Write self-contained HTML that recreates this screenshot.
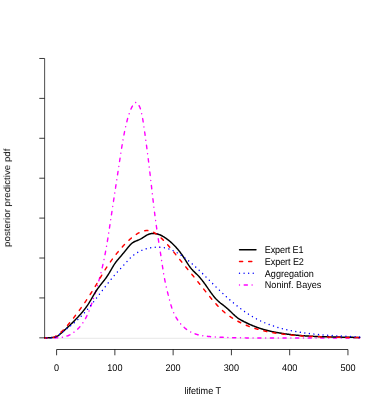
<!DOCTYPE html>
<html><head><meta charset="utf-8">
<style>
html,body{margin:0;padding:0;background:#fff;}
body{width:382px;height:409px;overflow:hidden;font-family:"Liberation Sans",sans-serif;}
svg{display:block;will-change:transform;}
text{font-family:"Liberation Sans",sans-serif;font-size:9.09px;fill:#000;text-rendering:geometricPrecision;}
</style></head><body>
<svg width="382" height="409" viewBox="0 0 382 382" preserveAspectRatio="none">
<rect width="382" height="382" fill="#fff"/>
<line x1="44.6" y1="315.97" x2="359.7" y2="315.97" stroke="#dedede" stroke-width="0.7"/>
<g fill="none" stroke-linejoin="round" stroke-linecap="round" stroke-width="1.4">
<path d="M44.75,315.59 L45.26,315.58 L45.76,315.58 L46.26,315.57 L46.77,315.57 L47.27,315.57 L47.78,315.57 L48.29,315.57 L48.79,315.57 L49.30,315.58 L49.81,315.58 L50.32,315.59 L50.82,315.59 L51.33,315.59 L51.84,315.60 L52.35,315.60 L52.85,315.60 L53.36,315.60 L53.86,315.60 L54.37,315.59 L54.87,315.59 L55.38,315.58 L55.88,315.56 L56.38,315.55 L56.89,315.53 L57.39,315.51 L57.89,315.48 L58.38,315.45 L58.88,315.41 L59.38,315.37 L59.87,315.32 L60.36,315.27 L60.85,315.21 L61.34,315.15 L61.83,315.08 L62.31,315.01 L62.80,314.92 L63.28,314.84 L63.76,314.74 L64.24,314.64 L64.71,314.53 L65.18,314.41 L65.65,314.28 L66.12,314.15 L66.59,314.01 L67.05,313.86 L67.51,313.70 L67.96,313.53 L68.42,313.35 L68.87,313.17 L69.32,312.97 L69.76,312.77 L70.20,312.55 L70.64,312.33 L71.08,312.10 L71.51,311.87 L71.94,311.62 L72.36,311.37 L72.78,311.11 L73.20,310.85 L73.61,310.57 L74.02,310.29 L74.42,310.01 L74.82,309.71 L75.22,309.42 L75.61,309.11 L76.00,308.80 L76.38,308.49 L76.76,308.17 L77.14,307.84 L77.51,307.51 L77.87,307.18 L78.23,306.84 L78.59,306.49 L78.94,306.15 L79.28,305.80 L79.62,305.44 L79.96,305.08 L80.28,304.72 L80.61,304.36 L80.93,303.99 L81.24,303.62 L81.55,303.25 L81.85,302.88 L82.15,302.50 L82.44,302.12 L82.72,301.74 L83.01,301.36 L83.28,300.97 L83.56,300.58 L83.82,300.19 L84.09,299.80 L84.34,299.40 L84.60,299.00 L84.85,298.61 L85.10,298.20 L85.34,297.80 L85.58,297.40 L85.81,296.99 L86.04,296.58 L86.27,296.17 L86.49,295.76 L86.71,295.35 L86.93,294.93 L87.14,294.51 L87.35,294.09 L87.56,293.67 L87.76,293.25 L87.96,292.83 L88.16,292.41 L88.35,291.98 L88.55,291.55 L88.74,291.13 L88.93,290.70 L89.11,290.27 L89.29,289.84 L89.47,289.40 L89.65,288.97 L89.83,288.54 L90.01,288.10 L90.18,287.67 L90.35,287.23 L90.52,286.79 L90.69,286.36 L90.86,285.92 L91.02,285.48 L91.19,285.04 L91.35,284.60 L91.52,284.16 L91.68,283.71 L91.84,283.27 L92.00,282.83 L92.16,282.39 L92.32,281.95 L92.48,281.50 L92.64,281.06 L92.80,280.62 L92.95,280.17 L93.11,279.73 L93.27,279.29 L93.42,278.84 L93.58,278.40 L93.73,277.95 L93.89,277.51 L94.04,277.06 L94.20,276.62 L94.35,276.17 L94.50,275.73 L94.65,275.28 L94.81,274.84 L94.96,274.39 L95.11,273.94 L95.26,273.50 L95.41,273.05 L95.55,272.60 L95.70,272.16 L95.85,271.71 L96.00,271.26 L96.14,270.81 L96.29,270.37 L96.44,269.92 L96.58,269.47 L96.73,269.02 L96.87,268.57 L97.01,268.12 L97.15,267.67 L97.30,267.22 L97.44,266.78 L97.58,266.33 L97.72,265.88 L97.86,265.43 L98.00,264.98 L98.13,264.53 L98.27,264.08 L98.41,263.63 L98.55,263.17 L98.68,262.72 L98.82,262.27 L98.95,261.82 L99.08,261.37 L99.22,260.92 L99.35,260.47 L99.48,260.01 L99.61,259.56 L99.74,259.11 L99.87,258.66 L100.00,258.21 L100.13,257.75 L100.25,257.30 L100.38,256.85 L100.51,256.39 L100.63,255.94 L100.76,255.49 L100.88,255.03 L101.00,254.58 L101.12,254.13 L101.25,253.67 L101.37,253.22 L101.49,252.76 L101.61,252.31 L101.72,251.86 L101.84,251.40 L101.96,250.95 L102.07,250.49 L102.19,250.04 L102.30,249.58 L102.42,249.13 L102.53,248.67 L102.64,248.21 L102.75,247.76 L102.86,247.30 L102.97,246.85 L103.08,246.39 L103.19,245.93 L103.30,245.48 L103.40,245.02 L103.51,244.57 L103.62,244.11 L103.72,243.65 L103.82,243.20 L103.93,242.74 L104.03,242.28 L104.13,241.82 L104.23,241.37 L104.33,240.91 L104.43,240.45 L104.53,239.99 L104.63,239.54 L104.72,239.08 L104.82,238.62 L104.92,238.16 L105.01,237.71 L105.11,237.25 L105.20,236.79 L105.29,236.33 L105.39,235.87 L105.48,235.41 L105.57,234.95 L105.66,234.50 L105.75,234.04 L105.84,233.58 L105.93,233.12 L106.02,232.66 L106.11,232.20 L106.20,231.74 L106.28,231.28 L106.37,230.82 L106.46,230.36 L106.54,229.90 L106.63,229.45 L106.71,228.99 L106.80,228.53 L106.88,228.07 L106.97,227.61 L107.05,227.15 L107.13,226.69 L107.22,226.23 L107.30,225.77 L107.38,225.31 L107.46,224.85 L107.54,224.39 L107.62,223.93 L107.70,223.47 L107.78,223.00 L107.86,222.54 L107.94,222.08 L108.02,221.62 L108.10,221.16 L108.18,220.70 L108.26,220.24 L108.34,219.78 L108.41,219.32 L108.49,218.86 L108.57,218.40 L108.64,217.94 L108.72,217.48 L108.80,217.02 L108.87,216.55 L108.95,216.09 L109.03,215.63 L109.10,215.17 L109.18,214.71 L109.25,214.25 L109.33,213.79 L109.40,213.33 L109.48,212.86 L109.55,212.40 L109.63,211.94 L109.70,211.48 L109.78,211.02 L109.85,210.56 L109.92,210.10 L110.00,209.64 L110.07,209.17 L110.15,208.71 L110.22,208.25 L110.29,207.79 L110.37,207.33 L110.44,206.87 L110.52,206.40 L110.59,205.94 L110.66,205.48 L110.74,205.02 L110.81,204.56 L110.89,204.10 L110.96,203.64 L111.03,203.17 L111.11,202.71 L111.18,202.25 L111.26,201.79 L111.33,201.33 L111.41,200.87 L111.48,200.41 L111.55,199.94 L111.63,199.48 L111.70,199.02 L111.78,198.56 L111.85,198.10 L111.93,197.64 L112.00,197.17 L112.08,196.71 L112.15,196.25 L112.22,195.79 L112.30,195.33 L112.37,194.87 L112.45,194.41 L112.52,193.94 L112.60,193.48 L112.67,193.02 L112.75,192.56 L112.82,192.10 L112.90,191.64 L112.97,191.18 L113.05,190.71 L113.12,190.25 L113.20,189.79 L113.27,189.33 L113.35,188.87 L113.42,188.41 L113.50,187.95 L113.57,187.48 L113.65,187.02 L113.72,186.56 L113.80,186.10 L113.87,185.64 L113.95,185.18 L114.02,184.72 L114.10,184.25 L114.17,183.79 L114.25,183.33 L114.33,182.87 L114.40,182.41 L114.48,181.95 L114.55,181.49 L114.63,181.02 L114.70,180.56 L114.78,180.10 L114.85,179.64 L114.93,179.18 L115.00,178.72 L115.08,178.26 L115.15,177.79 L115.23,177.33 L115.31,176.87 L115.38,176.41 L115.46,175.95 L115.53,175.49 L115.61,175.03 L115.68,174.56 L115.76,174.10 L115.83,173.64 L115.91,173.18 L115.99,172.72 L116.06,172.26 L116.14,171.80 L116.21,171.33 L116.29,170.87 L116.36,170.41 L116.44,169.95 L116.51,169.49 L116.59,169.03 L116.67,168.57 L116.74,168.11 L116.82,167.64 L116.89,167.18 L116.97,166.72 L117.04,166.26 L117.12,165.80 L117.19,165.34 L117.27,164.88 L117.34,164.42 L117.42,163.95 L117.50,163.49 L117.57,163.03 L117.65,162.57 L117.72,162.11 L117.80,161.65 L117.87,161.19 L117.95,160.73 L118.02,160.26 L118.10,159.80 L118.17,159.34 L118.25,158.88 L118.33,158.42 L118.40,157.96 L118.48,157.50 L118.55,157.04 L118.63,156.57 L118.70,156.11 L118.78,155.65 L118.85,155.19 L118.93,154.73 L119.00,154.27 L119.08,153.81 L119.15,153.35 L119.23,152.89 L119.30,152.42 L119.38,151.96 L119.45,151.50 L119.53,151.04 L119.60,150.58 L119.68,150.12 L119.75,149.66 L119.83,149.20 L119.90,148.74 L119.98,148.27 L120.05,147.81 L120.13,147.35 L120.20,146.89 L120.28,146.43 L120.35,145.97 L120.43,145.51 L120.50,145.05 L120.58,144.59 L120.66,144.12 L120.73,143.66 L120.81,143.20 L120.88,142.74 L120.96,142.28 L121.04,141.82 L121.11,141.36 L121.19,140.90 L121.27,140.44 L121.35,139.98 L121.42,139.51 L121.50,139.05 L121.58,138.59 L121.66,138.13 L121.74,137.67 L121.82,137.21 L121.90,136.75 L121.98,136.29 L122.06,135.83 L122.14,135.37 L122.23,134.91 L122.31,134.44 L122.39,133.98 L122.48,133.52 L122.56,133.06 L122.65,132.60 L122.73,132.14 L122.82,131.68 L122.90,131.22 L122.99,130.76 L123.08,130.30 L123.17,129.84 L123.26,129.38 L123.35,128.92 L123.44,128.45 L123.53,127.99 L123.62,127.53 L123.72,127.07 L123.81,126.61 L123.90,126.15 L124.00,125.69 L124.10,125.23 L124.19,124.77 L124.29,124.31 L124.39,123.85 L124.49,123.39 L124.59,122.93 L124.69,122.47 L124.79,122.00 L124.90,121.54 L125.00,121.08 L125.11,120.62 L125.21,120.16 L125.32,119.70 L125.43,119.24 L125.54,118.78 L125.65,118.32 L125.76,117.86 L125.87,117.40 L125.99,116.94 L126.10,116.48 L126.22,116.02 L126.34,115.56 L126.46,115.10 L126.58,114.64 L126.70,114.18 L126.82,113.71 L126.94,113.25 L127.07,112.79 L127.20,112.33 L127.33,111.88 L127.46,111.42 L127.59,110.96 L127.72,110.50 L127.86,110.05 L128.00,109.59 L128.14,109.14 L128.28,108.69 L128.43,108.23 L128.58,107.79 L128.73,107.34 L128.88,106.89 L129.04,106.45 L129.20,106.01 L129.36,105.57 L129.53,105.13 L129.70,104.69 L129.87,104.26 L130.05,103.83 L130.23,103.41 L130.41,102.98 L130.60,102.56 L130.79,102.14 L130.99,101.73 L131.19,101.32 L131.39,100.91 L131.61,100.50 L131.83,100.10 L132.05,99.71 L132.29,99.31 L132.54,98.92 L132.80,98.54 L133.07,98.16 L133.36,97.78 L133.66,97.41 L133.97,97.05 L134.30,96.69 L134.64,96.37 L134.99,96.11 L135.35,95.91 L135.71,95.81 L136.07,95.81 L136.43,95.91 L136.79,96.10 L137.14,96.35 L137.47,96.64 L137.79,96.97 L138.09,97.31 L138.38,97.67 L138.66,98.05 L138.91,98.44 L139.16,98.84 L139.39,99.26 L139.61,99.68 L139.82,100.12 L140.01,100.57 L140.20,101.02 L140.37,101.48 L140.54,101.95 L140.69,102.43 L140.84,102.90 L140.98,103.39 L141.12,103.87 L141.25,104.36 L141.37,104.85 L141.49,105.33 L141.61,105.82 L141.72,106.31 L141.83,106.79 L141.93,107.27 L142.04,107.74 L142.14,108.22 L142.23,108.69 L142.33,109.16 L142.42,109.63 L142.51,110.09 L142.60,110.56 L142.69,111.02 L142.78,111.48 L142.86,111.94 L142.94,112.40 L143.02,112.86 L143.10,113.31 L143.18,113.77 L143.26,114.22 L143.33,114.68 L143.41,115.13 L143.48,115.58 L143.55,116.04 L143.62,116.49 L143.70,116.94 L143.77,117.39 L143.84,117.84 L143.91,118.30 L143.98,118.75 L144.05,119.20 L144.12,119.66 L144.19,120.11 L144.26,120.56 L144.33,121.02 L144.40,121.47 L144.47,121.93 L144.54,122.38 L144.60,122.84 L144.67,123.30 L144.74,123.75 L144.81,124.21 L144.88,124.67 L144.95,125.12 L145.02,125.58 L145.09,126.04 L145.15,126.50 L145.22,126.96 L145.29,127.42 L145.36,127.88 L145.43,128.34 L145.49,128.80 L145.56,129.26 L145.63,129.72 L145.70,130.18 L145.76,130.64 L145.83,131.10 L145.90,131.56 L145.97,132.02 L146.03,132.48 L146.10,132.94 L146.17,133.41 L146.23,133.87 L146.30,134.33 L146.36,134.79 L146.43,135.26 L146.50,135.72 L146.56,136.18 L146.63,136.65 L146.69,137.11 L146.76,137.57 L146.82,138.04 L146.89,138.50 L146.95,138.97 L147.02,139.43 L147.08,139.90 L147.15,140.36 L147.21,140.82 L147.28,141.29 L147.34,141.75 L147.41,142.22 L147.47,142.69 L147.53,143.15 L147.60,143.62 L147.66,144.08 L147.72,144.55 L147.79,145.01 L147.85,145.48 L147.91,145.95 L147.98,146.41 L148.04,146.88 L148.10,147.34 L148.16,147.81 L148.23,148.28 L148.29,148.74 L148.35,149.21 L148.41,149.67 L148.47,150.14 L148.54,150.61 L148.60,151.07 L148.66,151.54 L148.72,152.01 L148.78,152.47 L148.84,152.94 L148.90,153.41 L148.96,153.87 L149.02,154.34 L149.08,154.80 L149.14,155.27 L149.20,155.74 L149.26,156.20 L149.32,156.67 L149.38,157.13 L149.44,157.60 L149.50,158.07 L149.56,158.53 L149.62,159.00 L149.68,159.46 L149.74,159.93 L149.80,160.40 L149.86,160.86 L149.91,161.33 L149.97,161.79 L150.03,162.26 L150.09,162.72 L150.15,163.19 L150.20,163.65 L150.26,164.12 L150.32,164.58 L150.38,165.05 L150.43,165.51 L150.49,165.98 L150.55,166.44 L150.61,166.91 L150.66,167.37 L150.72,167.84 L150.78,168.30 L150.83,168.77 L150.89,169.23 L150.95,169.69 L151.01,170.16 L151.06,170.62 L151.12,171.09 L151.18,171.55 L151.23,172.02 L151.29,172.48 L151.35,172.94 L151.40,173.41 L151.46,173.87 L151.52,174.34 L151.57,174.80 L151.63,175.26 L151.69,175.73 L151.74,176.19 L151.80,176.65 L151.86,177.12 L151.91,177.58 L151.97,178.04 L152.03,178.51 L152.08,178.97 L152.14,179.43 L152.20,179.90 L152.25,180.36 L152.31,180.82 L152.37,181.29 L152.42,181.75 L152.48,182.21 L152.54,182.68 L152.60,183.14 L152.65,183.60 L152.71,184.06 L152.77,184.53 L152.83,184.99 L152.88,185.45 L152.94,185.92 L153.00,186.38 L153.06,186.84 L153.12,187.30 L153.17,187.77 L153.23,188.23 L153.29,188.69 L153.35,189.15 L153.41,189.62 L153.47,190.08 L153.53,190.54 L153.58,191.00 L153.64,191.46 L153.70,191.93 L153.76,192.39 L153.82,192.85 L153.88,193.31 L153.94,193.78 L154.00,194.24 L154.06,194.70 L154.12,195.16 L154.19,195.62 L154.25,196.09 L154.31,196.55 L154.37,197.01 L154.43,197.47 L154.49,197.93 L154.55,198.39 L154.62,198.86 L154.68,199.32 L154.74,199.78 L154.80,200.24 L154.87,200.70 L154.93,201.16 L154.99,201.63 L155.06,202.09 L155.12,202.55 L155.19,203.01 L155.25,203.47 L155.32,203.93 L155.38,204.40 L155.45,204.86 L155.51,205.32 L155.58,205.78 L155.65,206.24 L155.71,206.70 L155.78,207.16 L155.85,207.63 L155.91,208.09 L155.98,208.55 L156.05,209.01 L156.12,209.47 L156.19,209.93 L156.26,210.39 L156.32,210.85 L156.39,211.32 L156.46,211.78 L156.53,212.24 L156.60,212.70 L156.68,213.16 L156.75,213.62 L156.82,214.08 L156.89,214.54 L156.96,215.00 L157.04,215.47 L157.11,215.93 L157.18,216.39 L157.26,216.85 L157.33,217.31 L157.40,217.77 L157.48,218.23 L157.55,218.69 L157.63,219.15 L157.70,219.62 L157.78,220.08 L157.85,220.54 L157.93,221.00 L158.00,221.46 L158.08,221.92 L158.16,222.38 L158.23,222.84 L158.31,223.30 L158.38,223.77 L158.46,224.23 L158.54,224.69 L158.61,225.15 L158.69,225.61 L158.77,226.07 L158.85,226.53 L158.92,226.99 L159.00,227.45 L159.08,227.91 L159.15,228.38 L159.23,228.84 L159.31,229.30 L159.39,229.76 L159.46,230.22 L159.54,230.68 L159.62,231.14 L159.69,231.60 L159.77,232.06 L159.85,232.53 L159.93,232.99 L160.00,233.45 L160.08,233.91 L160.16,234.37 L160.23,234.83 L160.31,235.29 L160.39,235.75 L160.46,236.22 L160.54,236.68 L160.61,237.14 L160.69,237.60 L160.76,238.06 L160.84,238.52 L160.92,238.98 L160.99,239.44 L161.06,239.91 L161.14,240.37 L161.21,240.83 L161.29,241.29 L161.36,241.75 L161.43,242.21 L161.51,242.67 L161.58,243.14 L161.66,243.60 L161.73,244.06 L161.80,244.52 L161.87,244.98 L161.95,245.44 L162.02,245.91 L162.10,246.37 L162.17,246.83 L162.24,247.29 L162.32,247.75 L162.39,248.21 L162.47,248.68 L162.54,249.14 L162.62,249.60 L162.69,250.06 L162.77,250.52 L162.85,250.99 L162.92,251.45 L163.00,251.91 L163.08,252.37 L163.16,252.83 L163.24,253.30 L163.32,253.76 L163.40,254.22 L163.48,254.68 L163.57,255.14 L163.65,255.61 L163.73,256.07 L163.82,256.53 L163.91,256.99 L163.99,257.46 L164.08,257.92 L164.17,258.38 L164.26,258.84 L164.35,259.30 L164.45,259.77 L164.54,260.23 L164.63,260.69 L164.73,261.16 L164.83,261.62 L164.93,262.08 L165.03,262.54 L165.13,263.01 L165.23,263.47 L165.33,263.93 L165.44,264.39 L165.54,264.86 L165.65,265.32 L165.76,265.78 L165.87,266.24 L165.98,266.71 L166.09,267.17 L166.20,267.63 L166.31,268.09 L166.43,268.55 L166.54,269.01 L166.66,269.47 L166.77,269.93 L166.89,270.39 L167.01,270.85 L167.13,271.31 L167.24,271.77 L167.36,272.23 L167.48,272.69 L167.61,273.14 L167.73,273.60 L167.85,274.06 L167.97,274.51 L168.09,274.97 L168.22,275.42 L168.34,275.88 L168.47,276.33 L168.59,276.79 L168.72,277.24 L168.84,277.69 L168.97,278.14 L169.09,278.59 L169.22,279.04 L169.34,279.49 L169.47,279.94 L169.60,280.39 L169.72,280.83 L169.85,281.28 L169.98,281.72 L170.11,282.17 L170.24,282.61 L170.38,283.05 L170.51,283.50 L170.64,283.94 L170.78,284.38 L170.92,284.82 L171.06,285.25 L171.20,285.69 L171.35,286.13 L171.50,286.56 L171.65,286.99 L171.80,287.43 L171.96,287.86 L172.12,288.29 L172.28,288.72 L172.44,289.14 L172.61,289.57 L172.79,290.00 L172.96,290.42 L173.14,290.84 L173.33,291.26 L173.51,291.68 L173.71,292.10 L173.90,292.52 L174.11,292.94 L174.31,293.35 L174.52,293.77 L174.74,294.18 L174.96,294.59 L175.19,295.00 L175.42,295.41 L175.66,295.81 L175.90,296.22 L176.15,296.62 L176.41,297.02 L176.67,297.42 L176.94,297.82 L177.21,298.21 L177.49,298.61 L177.77,299.00 L178.06,299.39 L178.36,299.77 L178.66,300.16 L178.96,300.54 L179.28,300.92 L179.59,301.29 L179.91,301.66 L180.24,302.03 L180.57,302.39 L180.91,302.75 L181.25,303.11 L181.60,303.46 L181.95,303.81 L182.30,304.15 L182.67,304.49 L183.03,304.82 L183.40,305.15 L183.77,305.47 L184.15,305.79 L184.53,306.11 L184.92,306.42 L185.31,306.72 L185.70,307.02 L186.10,307.31 L186.50,307.59 L186.91,307.87 L187.32,308.14 L187.73,308.41 L188.15,308.67 L188.57,308.92 L188.99,309.17 L189.42,309.41 L189.85,309.64 L190.28,309.86 L190.72,310.08 L191.16,310.29 L191.60,310.49 L192.05,310.69 L192.50,310.88 L192.95,311.06 L193.40,311.24 L193.86,311.41 L194.32,311.57 L194.78,311.73 L195.24,311.88 L195.71,312.03 L196.18,312.17 L196.65,312.30 L197.12,312.43 L197.60,312.56 L198.08,312.68 L198.56,312.79 L199.04,312.90 L199.52,313.00 L200.00,313.10 L200.49,313.20 L200.98,313.29 L201.47,313.38 L201.96,313.46 L202.45,313.54 L202.95,313.62 L203.44,313.69 L203.94,313.76 L204.43,313.83 L204.93,313.89 L205.43,313.95 L205.93,314.01 L206.43,314.06 L206.93,314.11 L207.44,314.16 L207.94,314.21 L208.44,314.25 L208.95,314.30 L209.45,314.34 L209.95,314.38 L210.46,314.41 L210.96,314.45 L211.47,314.49 L211.98,314.52 L212.48,314.55 L212.99,314.59 L213.49,314.62 L213.99,314.65 L214.50,314.68 L215.00,314.71 L215.51,314.74 L216.01,314.76 L216.52,314.79 L217.02,314.82 L217.52,314.84 L218.03,314.87 L218.53,314.89 L219.03,314.92 L219.54,314.94 L220.04,314.96 L220.54,314.99 L221.05,315.01 L221.55,315.03 L222.05,315.05 L222.55,315.07 L223.06,315.09 L223.56,315.11 L224.06,315.12 L224.56,315.14 L225.06,315.16 L225.57,315.18 L226.07,315.19 L226.57,315.21 L227.07,315.22 L227.57,315.24 L228.07,315.25 L228.57,315.27 L229.07,315.28 L229.58,315.30 L230.08,315.31 L230.58,315.32 L231.08,315.33 L231.58,315.34 L232.08,315.36 L232.58,315.37 L233.08,315.38 L233.58,315.39 L234.08,315.40 L234.58,315.41 L235.08,315.42 L235.58,315.43 L236.08,315.44 L236.58,315.45 L237.08,315.45 L237.58,315.46 L238.08,315.47 L238.58,315.48 L239.07,315.49 L239.57,315.49 L240.07,315.50 L240.57,315.51 L241.07,315.52 L241.57,315.52 L242.07,315.53 L242.57,315.54 L243.07,315.54 L243.57,315.55 L244.06,315.56 L244.56,315.56 L245.06,315.57 L245.56,315.57 L246.06,315.58 L246.56,315.58 L247.06,315.59 L247.55,315.60 L248.05,315.60 L248.55,315.61 L249.05,315.61 L249.55,315.62 L250.05,315.62 L250.54,315.62 L251.04,315.63 L251.54,315.63 L252.04,315.64 L252.54,315.64 L253.03,315.64 L253.53,315.65 L254.03,315.65 L254.53,315.66 L255.03,315.66 L255.52,315.66 L256.02,315.67 L256.52,315.67 L257.02,315.67 L257.52,315.67 L258.02,315.68 L258.51,315.68 L259.01,315.68 L259.51,315.69 L260.01,315.69 L260.51,315.69 L261.00,315.69 L261.50,315.70 L262.00,315.70 L262.50,315.70 L263.00,315.70 L263.49,315.70 L263.99,315.71 L264.49,315.71 L264.99,315.71 L265.49,315.71 L265.98,315.71 L266.48,315.72 L266.98,315.72 L267.48,315.72 L267.98,315.72 L268.48,315.72 L268.98,315.72 L269.47,315.72 L269.97,315.73 L270.47,315.73 L270.97,315.73 L271.47,315.73 L271.97,315.73 L272.47,315.73 L272.96,315.73 L273.46,315.73 L273.96,315.74 L274.46,315.74 L274.96,315.74 L275.46,315.74 L275.96,315.74 L276.46,315.74 L276.96,315.74 L277.46,315.74 L277.96,315.74 L278.45,315.75 L278.95,315.75 L279.45,315.75 L279.95,315.75 L280.45,315.75 L280.95,315.75 L281.45,315.75 L281.95,315.75 L282.45,315.75 L282.95,315.75 L283.45,315.75 L283.95,315.76 L284.45,315.76 L284.95,315.76 L285.45,315.76 L285.95,315.76 L286.45,315.76 L286.95,315.76 L287.45,315.76 L287.95,315.76 L288.45,315.76 L288.95,315.76 L289.45,315.76 L289.96,315.76 L290.46,315.76 L290.96,315.77 L291.46,315.77 L291.96,315.77 L292.46,315.77 L292.96,315.77 L293.46,315.77 L293.96,315.77 L294.46,315.77 L294.96,315.77 L295.46,315.77 L295.96,315.77 L296.46,315.77 L296.97,315.77 L297.47,315.77 L297.97,315.77 L298.47,315.77 L298.97,315.77 L299.47,315.77 L299.97,315.77 L300.47,315.78 L300.97,315.78 L301.47,315.78 L301.98,315.78 L302.48,315.78 L302.98,315.78 L303.48,315.78 L303.98,315.78 L304.48,315.78 L304.98,315.78 L305.48,315.78 L305.98,315.78 L306.49,315.78 L306.99,315.78 L307.49,315.78 L307.99,315.78 L308.49,315.78 L308.99,315.78 L309.49,315.78 L309.99,315.78 L310.50,315.78 L311.00,315.78 L311.50,315.78 L312.00,315.78 L312.50,315.78 L313.00,315.78 L313.50,315.78 L314.00,315.78 L314.50,315.78 L315.01,315.78 L315.51,315.78 L316.01,315.78 L316.51,315.78 L317.01,315.78 L317.51,315.78 L318.01,315.78 L318.51,315.78 L319.01,315.78 L319.52,315.78 L320.02,315.78 L320.52,315.78 L321.02,315.78 L321.52,315.78 L322.02,315.78 L322.52,315.78 L323.02,315.78 L323.52,315.78 L324.02,315.78 L324.53,315.78 L325.03,315.78 L325.53,315.78 L326.03,315.78 L326.53,315.78 L327.03,315.78 L327.53,315.78 L328.03,315.78 L328.53,315.78 L329.03,315.78 L329.53,315.78 L330.03,315.78 L330.53,315.78 L331.03,315.78 L331.54,315.78 L332.04,315.78 L332.54,315.78 L333.04,315.78 L333.54,315.78 L334.04,315.78 L334.54,315.78 L335.04,315.78 L335.54,315.78 L336.04,315.78 L336.54,315.78 L337.04,315.78 L337.54,315.78 L338.04,315.78 L338.54,315.78 L339.04,315.78 L339.54,315.78 L340.04,315.78 L340.54,315.78 L341.04,315.78 L341.54,315.78 L342.04,315.78 L342.53,315.78 L343.03,315.78 L343.53,315.78 L344.03,315.78 L344.53,315.78 L345.03,315.78 L345.53,315.78 L346.03,315.78 L346.53,315.78 L347.03,315.78 L347.53,315.78 L348.03,315.78 L348.52,315.78 L349.02,315.78 L349.52,315.78 L350.02,315.78 L350.52,315.78 L351.02,315.78 L351.52,315.78 L352.01,315.78 L352.51,315.78 L353.01,315.78 L353.51,315.78 L354.01,315.78 L354.50,315.78 L355.00,315.78 L355.50,315.78 L356.00,315.78 L356.50,315.78 L356.99,315.78 L357.49,315.78 L357.99,315.78 L358.48,315.78 L358.98,315.78 L359.48,315.78 L359.67,315.78" stroke="#ff00ff" stroke-dasharray="0.01 4.70 3.18 4.71" stroke-dashoffset="7.50"/>
<path d="M44.80,315.59 L45.30,315.53 L45.80,315.49 L46.30,315.45 L46.80,315.42 L47.30,315.41 L47.80,315.39 L48.30,315.39 L48.80,315.38 L49.30,315.38 L49.80,315.37 L50.30,315.36 L50.80,315.35 L51.30,315.33 L51.80,315.30 L52.30,315.26 L52.80,315.21 L53.30,315.15 L53.80,315.07 L54.30,314.97 L54.80,314.86 L55.30,314.72 L55.80,314.56 L56.30,314.37 L56.80,314.16 L57.30,313.92 L57.80,313.65 L58.30,313.35 L58.80,313.03 L59.30,312.67 L59.80,312.30 L60.30,311.92 L60.80,311.52 L61.30,311.10 L61.80,310.69 L62.30,310.26 L62.80,309.84 L63.30,309.42 L63.80,308.99 L64.30,308.57 L64.80,308.14 L65.30,307.71 L65.80,307.28 L66.30,306.85 L66.80,306.42 L67.30,305.99 L67.80,305.55 L68.30,305.11 L68.80,304.67 L69.30,304.23 L69.80,303.79 L70.30,303.34 L70.80,302.89 L71.30,302.44 L71.80,301.98 L72.30,301.53 L72.80,301.07 L73.30,300.60 L73.80,300.13 L74.30,299.66 L74.80,299.19 L75.30,298.71 L75.80,298.23 L76.30,297.74 L76.80,297.25 L77.30,296.76 L77.80,296.26 L78.30,295.76 L78.80,295.25 L79.30,294.74 L79.80,294.22 L80.30,293.70 L80.80,293.17 L81.30,292.63 L81.80,292.09 L82.30,291.54 L82.80,290.98 L83.30,290.41 L83.80,289.83 L84.30,289.24 L84.80,288.63 L85.30,288.02 L85.80,287.39 L86.30,286.75 L86.80,286.09 L87.30,285.41 L87.80,284.72 L88.30,284.02 L88.80,283.29 L89.30,282.55 L89.80,281.79 L90.30,281.01 L90.80,280.22 L91.30,279.41 L91.80,278.60 L92.30,277.78 L92.80,276.97 L93.30,276.16 L93.80,275.35 L94.30,274.56 L94.80,273.78 L95.30,273.01 L95.80,272.27 L96.30,271.55 L96.80,270.85 L97.30,270.17 L97.80,269.51 L98.30,268.86 L98.80,268.23 L99.30,267.60 L99.80,266.99 L100.30,266.39 L100.80,265.79 L101.30,265.20 L101.80,264.61 L102.30,264.03 L102.80,263.45 L103.30,262.86 L103.80,262.27 L104.30,261.67 L104.80,261.07 L105.30,260.45 L105.80,259.82 L106.30,259.17 L106.80,258.51 L107.30,257.83 L107.80,257.12 L108.30,256.38 L108.80,255.63 L109.30,254.85 L109.80,254.06 L110.30,253.25 L110.80,252.44 L111.30,251.63 L111.80,250.82 L112.30,250.01 L112.80,249.22 L113.30,248.44 L113.80,247.69 L114.30,246.95 L114.80,246.25 L115.30,245.58 L115.80,244.94 L116.30,244.32 L116.80,243.73 L117.30,243.16 L117.80,242.60 L118.30,242.05 L118.80,241.51 L119.30,240.97 L119.80,240.42 L120.30,239.87 L120.80,239.32 L121.30,238.77 L121.80,238.21 L122.30,237.65 L122.80,237.09 L123.30,236.52 L123.80,235.96 L124.30,235.39 L124.80,234.82 L125.30,234.24 L125.80,233.67 L126.30,233.09 L126.80,232.51 L127.30,231.93 L127.80,231.35 L128.30,230.78 L128.80,230.22 L129.30,229.68 L129.80,229.15 L130.30,228.65 L130.80,228.17 L131.30,227.72 L131.80,227.31 L132.30,226.94 L132.80,226.60 L133.30,226.30 L133.80,226.03 L134.30,225.79 L134.80,225.57 L135.30,225.36 L135.80,225.17 L136.30,224.98 L136.80,224.80 L137.30,224.61 L137.80,224.42 L138.30,224.23 L138.80,224.02 L139.30,223.81 L139.80,223.59 L140.30,223.36 L140.80,223.11 L141.30,222.85 L141.80,222.57 L142.30,222.29 L142.80,221.99 L143.30,221.69 L143.80,221.38 L144.30,221.07 L144.80,220.77 L145.30,220.47 L145.80,220.18 L146.30,219.91 L146.80,219.64 L147.30,219.40 L147.80,219.17 L148.30,218.97 L148.80,218.78 L149.30,218.62 L149.80,218.47 L150.30,218.35 L150.80,218.25 L151.30,218.16 L151.80,218.10 L152.30,218.05 L152.80,218.02 L153.30,218.01 L153.80,218.02 L154.30,218.04 L154.80,218.08 L155.30,218.14 L155.80,218.21 L156.30,218.30 L156.80,218.40 L157.30,218.52 L157.80,218.65 L158.30,218.80 L158.80,218.96 L159.30,219.13 L159.80,219.32 L160.30,219.52 L160.80,219.73 L161.30,219.96 L161.80,220.20 L162.30,220.45 L162.80,220.71 L163.30,220.98 L163.80,221.26 L164.30,221.55 L164.80,221.85 L165.30,222.16 L165.80,222.48 L166.30,222.81 L166.80,223.14 L167.30,223.49 L167.80,223.84 L168.30,224.20 L168.80,224.57 L169.30,224.95 L169.80,225.34 L170.30,225.73 L170.80,226.14 L171.30,226.55 L171.80,226.98 L172.30,227.41 L172.80,227.85 L173.30,228.31 L173.80,228.77 L174.30,229.25 L174.80,229.73 L175.30,230.23 L175.80,230.74 L176.30,231.26 L176.80,231.78 L177.30,232.33 L177.80,232.88 L178.30,233.44 L178.80,234.02 L179.30,234.61 L179.80,235.21 L180.30,235.83 L180.80,236.45 L181.30,237.09 L181.80,237.75 L182.30,238.41 L182.80,239.09 L183.30,239.78 L183.80,240.49 L184.30,241.21 L184.80,241.95 L185.30,242.70 L185.80,243.45 L186.30,244.22 L186.80,244.97 L187.30,245.73 L187.80,246.47 L188.30,247.19 L188.80,247.88 L189.30,248.55 L189.80,249.19 L190.30,249.81 L190.80,250.40 L191.30,250.96 L191.80,251.51 L192.30,252.03 L192.80,252.54 L193.30,253.03 L193.80,253.50 L194.30,253.96 L194.80,254.42 L195.30,254.86 L195.80,255.31 L196.30,255.75 L196.80,256.20 L197.30,256.65 L197.80,257.12 L198.30,257.60 L198.80,258.10 L199.30,258.61 L199.80,259.14 L200.30,259.68 L200.80,260.24 L201.30,260.81 L201.80,261.40 L202.30,261.99 L202.80,262.60 L203.30,263.22 L203.80,263.84 L204.30,264.48 L204.80,265.13 L205.30,265.78 L205.80,266.44 L206.30,267.11 L206.80,267.78 L207.30,268.45 L207.80,269.12 L208.30,269.80 L208.80,270.47 L209.30,271.15 L209.80,271.81 L210.30,272.48 L210.80,273.13 L211.30,273.78 L211.80,274.42 L212.30,275.05 L212.80,275.66 L213.30,276.26 L213.80,276.85 L214.30,277.42 L214.80,277.98 L215.30,278.51 L215.80,279.03 L216.30,279.53 L216.80,280.00 L217.30,280.45 L217.80,280.89 L218.30,281.31 L218.80,281.72 L219.30,282.12 L219.80,282.51 L220.30,282.88 L220.80,283.26 L221.30,283.62 L221.80,283.99 L222.30,284.35 L222.80,284.72 L223.30,285.08 L223.80,285.45 L224.30,285.81 L224.80,286.19 L225.30,286.57 L225.80,286.95 L226.30,287.34 L226.80,287.74 L227.30,288.15 L227.80,288.57 L228.30,289.00 L228.80,289.43 L229.30,289.87 L229.80,290.32 L230.30,290.76 L230.80,291.21 L231.30,291.66 L231.80,292.11 L232.30,292.56 L232.80,293.01 L233.30,293.45 L233.80,293.88 L234.30,294.31 L234.80,294.74 L235.30,295.15 L235.80,295.55 L236.30,295.94 L236.80,296.32 L237.30,296.69 L237.80,297.04 L238.30,297.38 L238.80,297.70 L239.30,298.00 L239.80,298.29 L240.30,298.57 L240.80,298.84 L241.30,299.11 L241.80,299.36 L242.30,299.61 L242.80,299.85 L243.30,300.09 L243.80,300.32 L244.30,300.56 L244.80,300.79 L245.30,301.02 L245.80,301.25 L246.30,301.47 L246.80,301.70 L247.30,301.92 L247.80,302.14 L248.30,302.36 L248.80,302.57 L249.30,302.79 L249.80,303.00 L250.30,303.20 L250.80,303.41 L251.30,303.61 L251.80,303.81 L252.30,304.01 L252.80,304.20 L253.30,304.39 L253.80,304.58 L254.30,304.77 L254.80,304.95 L255.30,305.13 L255.80,305.31 L256.30,305.48 L256.80,305.65 L257.30,305.82 L257.80,305.99 L258.30,306.15 L258.80,306.31 L259.30,306.47 L259.80,306.62 L260.30,306.77 L260.80,306.92 L261.30,307.07 L261.80,307.21 L262.30,307.35 L262.80,307.49 L263.30,307.63 L263.80,307.76 L264.30,307.90 L264.80,308.03 L265.30,308.15 L265.80,308.28 L266.30,308.40 L266.80,308.52 L267.30,308.64 L267.80,308.76 L268.30,308.87 L268.80,308.99 L269.30,309.10 L269.80,309.20 L270.30,309.31 L270.80,309.42 L271.30,309.52 L271.80,309.62 L272.30,309.72 L272.80,309.82 L273.30,309.92 L273.80,310.01 L274.30,310.11 L274.80,310.20 L275.30,310.29 L275.80,310.38 L276.30,310.46 L276.80,310.55 L277.30,310.64 L277.80,310.72 L278.30,310.80 L278.80,310.88 L279.30,310.96 L279.80,311.04 L280.30,311.12 L280.80,311.19 L281.30,311.27 L281.80,311.34 L282.30,311.42 L282.80,311.49 L283.30,311.56 L283.80,311.63 L284.30,311.70 L284.80,311.76 L285.30,311.83 L285.80,311.90 L286.30,311.96 L286.80,312.02 L287.30,312.09 L287.80,312.15 L288.30,312.21 L288.80,312.27 L289.30,312.32 L289.80,312.38 L290.30,312.44 L290.80,312.49 L291.30,312.55 L291.80,312.60 L292.30,312.65 L292.80,312.70 L293.30,312.76 L293.80,312.81 L294.30,312.85 L294.80,312.90 L295.30,312.95 L295.80,313.00 L296.30,313.04 L296.80,313.09 L297.30,313.13 L297.80,313.17 L298.30,313.21 L298.80,313.26 L299.30,313.30 L299.80,313.34 L300.30,313.38 L300.80,313.41 L301.30,313.45 L301.80,313.49 L302.30,313.52 L302.80,313.56 L303.30,313.59 L303.80,313.63 L304.30,313.66 L304.80,313.69 L305.30,313.72 L305.80,313.76 L306.30,313.79 L306.80,313.82 L307.30,313.85 L307.80,313.87 L308.30,313.90 L308.80,313.93 L309.30,313.96 L309.80,313.98 L310.30,314.01 L310.80,314.03 L311.30,314.06 L311.80,314.08 L312.30,314.10 L312.80,314.13 L313.30,314.15 L313.80,314.17 L314.30,314.19 L314.80,314.21 L315.30,314.23 L315.80,314.25 L316.30,314.27 L316.80,314.29 L317.30,314.31 L317.80,314.33 L318.30,314.35 L318.80,314.36 L319.30,314.38 L319.80,314.40 L320.30,314.41 L320.80,314.43 L321.30,314.44 L321.80,314.46 L322.30,314.47 L322.80,314.49 L323.30,314.50 L323.80,314.51 L324.30,314.53 L324.80,314.54 L325.30,314.55 L325.80,314.57 L326.30,314.58 L326.80,314.59 L327.30,314.60 L327.80,314.61 L328.30,314.62 L328.80,314.63 L329.30,314.64 L329.80,314.66 L330.30,314.67 L330.80,314.68 L331.30,314.69 L331.80,314.70 L332.30,314.71 L332.80,314.71 L333.30,314.72 L333.80,314.73 L334.30,314.74 L334.80,314.75 L335.30,314.76 L335.80,314.77 L336.30,314.78 L336.80,314.79 L337.30,314.79 L337.80,314.80 L338.30,314.81 L338.80,314.82 L339.30,314.83 L339.80,314.84 L340.30,314.85 L340.80,314.85 L341.30,314.86 L341.80,314.87 L342.30,314.88 L342.80,314.89 L343.30,314.90 L343.80,314.91 L344.30,314.91 L344.80,314.92 L345.30,314.93 L345.80,314.94 L346.30,314.95 L346.80,314.96 L347.30,314.97 L347.80,314.98 L348.30,314.99 L348.80,315.00 L349.30,315.01 L349.80,315.02 L350.30,315.03 L350.80,315.04 L351.30,315.05 L351.80,315.06 L352.30,315.07 L352.80,315.08 L353.30,315.10 L353.80,315.11 L354.30,315.12 L354.80,315.13 L355.30,315.15 L355.80,315.16 L356.30,315.17 L356.80,315.19 L357.30,315.20 L357.80,315.22 L358.30,315.23 L358.80,315.25 L359.30,315.26 L359.70,315.27" stroke="#000"/>
<path d="M44.80,315.48 L45.30,315.59 L45.80,315.59 L46.30,315.59 L46.80,315.59 L47.30,315.59 L47.80,315.59 L48.30,315.59 L48.80,315.59 L49.30,315.59 L49.80,315.59 L50.30,315.59 L50.80,315.59 L51.30,315.59 L51.80,315.58 L52.30,315.43 L52.80,315.26 L53.30,315.08 L53.80,314.88 L54.30,314.66 L54.80,314.42 L55.30,314.17 L55.80,313.90 L56.30,313.62 L56.80,313.31 L57.30,313.00 L57.80,312.67 L58.30,312.32 L58.80,311.97 L59.30,311.59 L59.80,311.21 L60.30,310.81 L60.80,310.40 L61.30,309.98 L61.80,309.55 L62.30,309.10 L62.80,308.64 L63.30,308.18 L63.80,307.70 L64.30,307.22 L64.80,306.72 L65.30,306.22 L65.80,305.70 L66.30,305.18 L66.80,304.65 L67.30,304.12 L67.80,303.57 L68.30,303.02 L68.80,302.47 L69.30,301.91 L69.80,301.34 L70.30,300.77 L70.80,300.19 L71.30,299.61 L71.80,299.02 L72.30,298.43 L72.80,297.84 L73.30,297.25 L73.80,296.65 L74.30,296.05 L74.80,295.44 L75.30,294.83 L75.80,294.22 L76.30,293.60 L76.80,292.99 L77.30,292.36 L77.80,291.74 L78.30,291.11 L78.80,290.47 L79.30,289.84 L79.80,289.20 L80.30,288.55 L80.80,287.91 L81.30,287.25 L81.80,286.60 L82.30,285.94 L82.80,285.28 L83.30,284.61 L83.80,283.94 L84.30,283.27 L84.80,282.59 L85.30,281.90 L85.80,281.22 L86.30,280.53 L86.80,279.83 L87.30,279.13 L87.80,278.43 L88.30,277.72 L88.80,277.01 L89.30,276.29 L89.80,275.57 L90.30,274.84 L90.80,274.11 L91.30,273.38 L91.80,272.64 L92.30,271.90 L92.80,271.15 L93.30,270.40 L93.80,269.64 L94.30,268.88 L94.80,268.11 L95.30,267.34 L95.80,266.57 L96.30,265.79 L96.80,265.00 L97.30,264.21 L97.80,263.41 L98.30,262.61 L98.80,261.81 L99.30,261.01 L99.80,260.20 L100.30,259.40 L100.80,258.60 L101.30,257.80 L101.80,257.01 L102.30,256.22 L102.80,255.44 L103.30,254.66 L103.80,253.90 L104.30,253.14 L104.80,252.39 L105.30,251.65 L105.80,250.92 L106.30,250.20 L106.80,249.49 L107.30,248.78 L107.80,248.08 L108.30,247.39 L108.80,246.71 L109.30,246.03 L109.80,245.36 L110.30,244.70 L110.80,244.04 L111.30,243.39 L111.80,242.75 L112.30,242.11 L112.80,241.48 L113.30,240.86 L113.80,240.24 L114.30,239.62 L114.80,239.01 L115.30,238.41 L115.80,237.81 L116.30,237.22 L116.80,236.64 L117.30,236.06 L117.80,235.49 L118.30,234.92 L118.80,234.36 L119.30,233.80 L119.80,233.25 L120.30,232.71 L120.80,232.18 L121.30,231.65 L121.80,231.12 L122.30,230.60 L122.80,230.09 L123.30,229.59 L123.80,229.09 L124.30,228.60 L124.80,228.11 L125.30,227.63 L125.80,227.16 L126.30,226.70 L126.80,226.24 L127.30,225.79 L127.80,225.34 L128.30,224.90 L128.80,224.47 L129.30,224.05 L129.80,223.63 L130.30,223.22 L130.80,222.81 L131.30,222.42 L131.80,222.03 L132.30,221.64 L132.80,221.27 L133.30,220.90 L133.80,220.54 L134.30,220.19 L134.80,219.85 L135.30,219.52 L135.80,219.19 L136.30,218.88 L136.80,218.58 L137.30,218.29 L137.80,218.01 L138.30,217.74 L138.80,217.49 L139.30,217.24 L139.80,217.01 L140.30,216.80 L140.80,216.59 L141.30,216.40 L141.80,216.23 L142.30,216.06 L142.80,215.92 L143.30,215.79 L143.80,215.67 L144.30,215.57 L144.80,215.49 L145.30,215.42 L145.80,215.38 L146.30,215.34 L146.80,215.33 L147.30,215.34 L147.80,215.36 L148.30,215.40 L148.80,215.47 L149.30,215.55 L149.80,215.65 L150.30,215.77 L150.80,215.91 L151.30,216.07 L151.80,216.25 L152.30,216.44 L152.80,216.66 L153.30,216.88 L153.80,217.13 L154.30,217.39 L154.80,217.66 L155.30,217.95 L155.80,218.26 L156.30,218.58 L156.80,218.91 L157.30,219.25 L157.80,219.61 L158.30,219.98 L158.80,220.36 L159.30,220.75 L159.80,221.16 L160.30,221.57 L160.80,222.00 L161.30,222.43 L161.80,222.87 L162.30,223.33 L162.80,223.79 L163.30,224.25 L163.80,224.73 L164.30,225.21 L164.80,225.71 L165.30,226.21 L165.80,226.71 L166.30,227.22 L166.80,227.74 L167.30,228.27 L167.80,228.80 L168.30,229.33 L168.80,229.87 L169.30,230.42 L169.80,230.97 L170.30,231.52 L170.80,232.08 L171.30,232.64 L171.80,233.21 L172.30,233.77 L172.80,234.35 L173.30,234.92 L173.80,235.49 L174.30,236.07 L174.80,236.65 L175.30,237.23 L175.80,237.82 L176.30,238.40 L176.80,238.98 L177.30,239.57 L177.80,240.15 L178.30,240.73 L178.80,241.32 L179.30,241.90 L179.80,242.48 L180.30,243.06 L180.80,243.64 L181.30,244.22 L181.80,244.79 L182.30,245.37 L182.80,245.94 L183.30,246.51 L183.80,247.08 L184.30,247.65 L184.80,248.22 L185.30,248.79 L185.80,249.36 L186.30,249.93 L186.80,250.50 L187.30,251.06 L187.80,251.63 L188.30,252.20 L188.80,252.77 L189.30,253.33 L189.80,253.90 L190.30,254.47 L190.80,255.04 L191.30,255.61 L191.80,256.18 L192.30,256.75 L192.80,257.32 L193.30,257.89 L193.80,258.46 L194.30,259.04 L194.80,259.61 L195.30,260.19 L195.80,260.76 L196.30,261.34 L196.80,261.92 L197.30,262.50 L197.80,263.08 L198.30,263.66 L198.80,264.25 L199.30,264.83 L199.80,265.42 L200.30,266.01 L200.80,266.59 L201.30,267.18 L201.80,267.78 L202.30,268.37 L202.80,268.96 L203.30,269.55 L203.80,270.14 L204.30,270.73 L204.80,271.32 L205.30,271.91 L205.80,272.50 L206.30,273.09 L206.80,273.67 L207.30,274.26 L207.80,274.84 L208.30,275.42 L208.80,276.00 L209.30,276.57 L209.80,277.15 L210.30,277.71 L210.80,278.28 L211.30,278.84 L211.80,279.40 L212.30,279.96 L212.80,280.51 L213.30,281.05 L213.80,281.60 L214.30,282.13 L214.80,282.67 L215.30,283.19 L215.80,283.71 L216.30,284.23 L216.80,284.74 L217.30,285.24 L217.80,285.74 L218.30,286.23 L218.80,286.72 L219.30,287.19 L219.80,287.66 L220.30,288.13 L220.80,288.58 L221.30,289.03 L221.80,289.47 L222.30,289.90 L222.80,290.32 L223.30,290.74 L223.80,291.14 L224.30,291.54 L224.80,291.94 L225.30,292.32 L225.80,292.70 L226.30,293.07 L226.80,293.44 L227.30,293.79 L227.80,294.15 L228.30,294.49 L228.80,294.83 L229.30,295.16 L229.80,295.49 L230.30,295.81 L230.80,296.13 L231.30,296.44 L231.80,296.74 L232.30,297.04 L232.80,297.33 L233.30,297.62 L233.80,297.91 L234.30,298.19 L234.80,298.46 L235.30,298.73 L235.80,299.00 L236.30,299.26 L236.80,299.52 L237.30,299.78 L237.80,300.03 L238.30,300.28 L238.80,300.52 L239.30,300.76 L239.80,301.00 L240.30,301.24 L240.80,301.47 L241.30,301.69 L241.80,301.92 L242.30,302.14 L242.80,302.36 L243.30,302.57 L243.80,302.79 L244.30,302.99 L244.80,303.20 L245.30,303.40 L245.80,303.60 L246.30,303.80 L246.80,303.99 L247.30,304.18 L247.80,304.37 L248.30,304.56 L248.80,304.74 L249.30,304.92 L249.80,305.10 L250.30,305.27 L250.80,305.44 L251.30,305.61 L251.80,305.77 L252.30,305.94 L252.80,306.10 L253.30,306.26 L253.80,306.41 L254.30,306.56 L254.80,306.71 L255.30,306.86 L255.80,307.01 L256.30,307.15 L256.80,307.29 L257.30,307.43 L257.80,307.57 L258.30,307.70 L258.80,307.83 L259.30,307.96 L259.80,308.09 L260.30,308.21 L260.80,308.34 L261.30,308.46 L261.80,308.58 L262.30,308.69 L262.80,308.81 L263.30,308.92 L263.80,309.03 L264.30,309.14 L264.80,309.24 L265.30,309.35 L265.80,309.45 L266.30,309.55 L266.80,309.65 L267.30,309.75 L267.80,309.85 L268.30,309.94 L268.80,310.03 L269.30,310.12 L269.80,310.21 L270.30,310.30 L270.80,310.39 L271.30,310.47 L271.80,310.55 L272.30,310.64 L272.80,310.72 L273.30,310.80 L273.80,310.87 L274.30,310.95 L274.80,311.02 L275.30,311.10 L275.80,311.17 L276.30,311.24 L276.80,311.31 L277.30,311.38 L277.80,311.44 L278.30,311.51 L278.80,311.58 L279.30,311.64 L279.80,311.70 L280.30,311.77 L280.80,311.83 L281.30,311.89 L281.80,311.95 L282.30,312.00 L282.80,312.06 L283.30,312.12 L283.80,312.17 L284.30,312.23 L284.80,312.28 L285.30,312.34 L285.80,312.39 L286.30,312.44 L286.80,312.49 L287.30,312.54 L287.80,312.59 L288.30,312.64 L288.80,312.69 L289.30,312.74 L289.80,312.79 L290.30,312.83 L290.80,312.88 L291.30,312.93 L291.80,312.97 L292.30,313.02 L292.80,313.06 L293.30,313.10 L293.80,313.15 L294.30,313.19 L294.80,313.23 L295.30,313.27 L295.80,313.31 L296.30,313.35 L296.80,313.39 L297.30,313.43 L297.80,313.46 L298.30,313.50 L298.80,313.54 L299.30,313.57 L299.80,313.61 L300.30,313.64 L300.80,313.68 L301.30,313.71 L301.80,313.75 L302.30,313.78 L302.80,313.81 L303.30,313.84 L303.80,313.88 L304.30,313.91 L304.80,313.94 L305.30,313.97 L305.80,314.00 L306.30,314.02 L306.80,314.05 L307.30,314.08 L307.80,314.11 L308.30,314.13 L308.80,314.16 L309.30,314.19 L309.80,314.21 L310.30,314.24 L310.80,314.26 L311.30,314.29 L311.80,314.31 L312.30,314.33 L312.80,314.35 L313.30,314.38 L313.80,314.40 L314.30,314.42 L314.80,314.44 L315.30,314.46 L315.80,314.48 L316.30,314.50 L316.80,314.52 L317.30,314.54 L317.80,314.56 L318.30,314.58 L318.80,314.59 L319.30,314.61 L319.80,314.63 L320.30,314.65 L320.80,314.66 L321.30,314.68 L321.80,314.69 L322.30,314.71 L322.80,314.72 L323.30,314.74 L323.80,314.75 L324.30,314.77 L324.80,314.78 L325.30,314.79 L325.80,314.81 L326.30,314.82 L326.80,314.83 L327.30,314.84 L327.80,314.86 L328.30,314.87 L328.80,314.88 L329.30,314.89 L329.80,314.90 L330.30,314.91 L330.80,314.92 L331.30,314.93 L331.80,314.94 L332.30,314.95 L332.80,314.96 L333.30,314.96 L333.80,314.97 L334.30,314.98 L334.80,314.99 L335.30,315.00 L335.80,315.00 L336.30,315.01 L336.80,315.02 L337.30,315.03 L337.80,315.03 L338.30,315.04 L338.80,315.04 L339.30,315.05 L339.80,315.06 L340.30,315.06 L340.80,315.07 L341.30,315.07 L341.80,315.08 L342.30,315.08 L342.80,315.09 L343.30,315.09 L343.80,315.10 L344.30,315.10 L344.80,315.10 L345.30,315.11 L345.80,315.11 L346.30,315.12 L346.80,315.12 L347.30,315.12 L347.80,315.13 L348.30,315.13 L348.80,315.13 L349.30,315.13 L349.80,315.14 L350.30,315.14 L350.80,315.14 L351.30,315.15 L351.80,315.15 L352.30,315.15 L352.80,315.15 L353.30,315.15 L353.80,315.16 L354.30,315.16 L354.80,315.16 L355.30,315.16 L355.80,315.16 L356.30,315.17 L356.80,315.17 L357.30,315.17 L357.80,315.17 L358.30,315.17 L358.80,315.18 L359.30,315.18 L359.70,315.18" stroke="#ff0000" stroke-dasharray="3.18 5.98" stroke-dashoffset="0.64"/>
<path d="M44.80,315.47 L45.30,315.57 L45.80,315.59 L46.30,315.59 L46.80,315.59 L47.30,315.59 L47.80,315.59 L48.30,315.59 L48.80,315.59 L49.30,315.59 L49.80,315.59 L50.30,315.59 L50.80,315.59 L51.30,315.59 L51.80,315.59 L52.30,315.53 L52.80,315.42 L53.30,315.29 L53.80,315.14 L54.30,314.98 L54.80,314.80 L55.30,314.60 L55.80,314.39 L56.30,314.16 L56.80,313.91 L57.30,313.65 L57.80,313.36 L58.30,313.06 L58.80,312.75 L59.30,312.42 L59.80,312.08 L60.30,311.73 L60.80,311.38 L61.30,311.02 L61.80,310.65 L62.30,310.29 L62.80,309.93 L63.30,309.56 L63.80,309.20 L64.30,308.84 L64.80,308.48 L65.30,308.12 L65.80,307.76 L66.30,307.40 L66.80,307.03 L67.30,306.67 L67.80,306.31 L68.30,305.94 L68.80,305.58 L69.30,305.21 L69.80,304.84 L70.30,304.47 L70.80,304.09 L71.30,303.72 L71.80,303.34 L72.30,302.95 L72.80,302.57 L73.30,302.18 L73.80,301.79 L74.30,301.39 L74.80,300.99 L75.30,300.58 L75.80,300.17 L76.30,299.76 L76.80,299.34 L77.30,298.92 L77.80,298.49 L78.30,298.05 L78.80,297.61 L79.30,297.16 L79.80,296.71 L80.30,296.25 L80.80,295.78 L81.30,295.31 L81.80,294.83 L82.30,294.34 L82.80,293.84 L83.30,293.34 L83.80,292.84 L84.30,292.32 L84.80,291.80 L85.30,291.28 L85.80,290.75 L86.30,290.21 L86.80,289.67 L87.30,289.12 L87.80,288.57 L88.30,288.01 L88.80,287.45 L89.30,286.89 L89.80,286.32 L90.30,285.74 L90.80,285.17 L91.30,284.59 L91.80,284.00 L92.30,283.42 L92.80,282.83 L93.30,282.23 L93.80,281.64 L94.30,281.04 L94.80,280.44 L95.30,279.84 L95.80,279.23 L96.30,278.63 L96.80,278.02 L97.30,277.41 L97.80,276.80 L98.30,276.19 L98.80,275.58 L99.30,274.97 L99.80,274.35 L100.30,273.74 L100.80,273.13 L101.30,272.52 L101.80,271.90 L102.30,271.29 L102.80,270.68 L103.30,270.07 L103.80,269.46 L104.30,268.86 L104.80,268.25 L105.30,267.65 L105.80,267.04 L106.30,266.44 L106.80,265.85 L107.30,265.25 L107.80,264.66 L108.30,264.07 L108.80,263.48 L109.30,262.90 L109.80,262.32 L110.30,261.74 L110.80,261.17 L111.30,260.60 L111.80,260.03 L112.30,259.47 L112.80,258.92 L113.30,258.37 L113.80,257.82 L114.30,257.28 L114.80,256.74 L115.30,256.21 L115.80,255.68 L116.30,255.16 L116.80,254.64 L117.30,254.13 L117.80,253.62 L118.30,253.10 L118.80,252.60 L119.30,252.09 L119.80,251.58 L120.30,251.08 L120.80,250.58 L121.30,250.07 L121.80,249.57 L122.30,249.06 L122.80,248.55 L123.30,248.04 L123.80,247.53 L124.30,247.02 L124.80,246.50 L125.30,245.98 L125.80,245.46 L126.30,244.94 L126.80,244.42 L127.30,243.90 L127.80,243.39 L128.30,242.89 L128.80,242.39 L129.30,241.90 L129.80,241.43 L130.30,240.97 L130.80,240.52 L131.30,240.09 L131.80,239.67 L132.30,239.26 L132.80,238.87 L133.30,238.49 L133.80,238.13 L134.30,237.78 L134.80,237.44 L135.30,237.11 L135.80,236.80 L136.30,236.49 L136.80,236.20 L137.30,235.92 L137.80,235.65 L138.30,235.39 L138.80,235.14 L139.30,234.90 L139.80,234.67 L140.30,234.45 L140.80,234.24 L141.30,234.03 L141.80,233.84 L142.30,233.65 L142.80,233.47 L143.30,233.30 L143.80,233.13 L144.30,232.97 L144.80,232.81 L145.30,232.67 L145.80,232.53 L146.30,232.39 L146.80,232.26 L147.30,232.13 L147.80,232.01 L148.30,231.89 L148.80,231.78 L149.30,231.68 L149.80,231.58 L150.30,231.49 L150.80,231.40 L151.30,231.32 L151.80,231.24 L152.30,231.17 L152.80,231.11 L153.30,231.05 L153.80,231.00 L154.30,230.95 L154.80,230.91 L155.30,230.88 L155.80,230.85 L156.30,230.83 L156.80,230.81 L157.30,230.80 L157.80,230.80 L158.30,230.80 L158.80,230.81 L159.30,230.83 L159.80,230.85 L160.30,230.88 L160.80,230.92 L161.30,230.96 L161.80,231.02 L162.30,231.07 L162.80,231.14 L163.30,231.21 L163.80,231.29 L164.30,231.37 L164.80,231.47 L165.30,231.57 L165.80,231.67 L166.30,231.79 L166.80,231.91 L167.30,232.04 L167.80,232.18 L168.30,232.32 L168.80,232.47 L169.30,232.63 L169.80,232.80 L170.30,232.97 L170.80,233.16 L171.30,233.35 L171.80,233.54 L172.30,233.75 L172.80,233.96 L173.30,234.17 L173.80,234.40 L174.30,234.63 L174.80,234.87 L175.30,235.11 L175.80,235.36 L176.30,235.62 L176.80,235.88 L177.30,236.15 L177.80,236.42 L178.30,236.70 L178.80,236.99 L179.30,237.28 L179.80,237.58 L180.30,237.88 L180.80,238.19 L181.30,238.51 L181.80,238.83 L182.30,239.15 L182.80,239.48 L183.30,239.82 L183.80,240.15 L184.30,240.50 L184.80,240.85 L185.30,241.20 L185.80,241.56 L186.30,241.92 L186.80,242.29 L187.30,242.66 L187.80,243.03 L188.30,243.41 L188.80,243.79 L189.30,244.18 L189.80,244.57 L190.30,244.96 L190.80,245.36 L191.30,245.76 L191.80,246.17 L192.30,246.57 L192.80,246.98 L193.30,247.40 L193.80,247.81 L194.30,248.23 L194.80,248.66 L195.30,249.08 L195.80,249.51 L196.30,249.94 L196.80,250.37 L197.30,250.81 L197.80,251.24 L198.30,251.68 L198.80,252.13 L199.30,252.57 L199.80,253.02 L200.30,253.46 L200.80,253.91 L201.30,254.36 L201.80,254.82 L202.30,255.27 L202.80,255.73 L203.30,256.18 L203.80,256.64 L204.30,257.10 L204.80,257.56 L205.30,258.02 L205.80,258.48 L206.30,258.95 L206.80,259.41 L207.30,259.87 L207.80,260.34 L208.30,260.80 L208.80,261.27 L209.30,261.73 L209.80,262.20 L210.30,262.67 L210.80,263.13 L211.30,263.60 L211.80,264.06 L212.30,264.53 L212.80,264.99 L213.30,265.45 L213.80,265.92 L214.30,266.38 L214.80,266.84 L215.30,267.30 L215.80,267.76 L216.30,268.22 L216.80,268.68 L217.30,269.14 L217.80,269.59 L218.30,270.05 L218.80,270.50 L219.30,270.95 L219.80,271.40 L220.30,271.85 L220.80,272.29 L221.30,272.74 L221.80,273.18 L222.30,273.62 L222.80,274.06 L223.30,274.49 L223.80,274.93 L224.30,275.36 L224.80,275.79 L225.30,276.22 L225.80,276.65 L226.30,277.07 L226.80,277.50 L227.30,277.92 L227.80,278.34 L228.30,278.75 L228.80,279.17 L229.30,279.58 L229.80,279.99 L230.30,280.40 L230.80,280.80 L231.30,281.20 L231.80,281.61 L232.30,282.00 L232.80,282.40 L233.30,282.79 L233.80,283.18 L234.30,283.57 L234.80,283.96 L235.30,284.34 L235.80,284.72 L236.30,285.10 L236.80,285.47 L237.30,285.85 L237.80,286.22 L238.30,286.58 L238.80,286.95 L239.30,287.31 L239.80,287.67 L240.30,288.03 L240.80,288.38 L241.30,288.73 L241.80,289.08 L242.30,289.42 L242.80,289.76 L243.30,290.10 L243.80,290.43 L244.30,290.77 L244.80,291.09 L245.30,291.42 L245.80,291.74 L246.30,292.06 L246.80,292.38 L247.30,292.69 L247.80,293.00 L248.30,293.31 L248.80,293.61 L249.30,293.91 L249.80,294.20 L250.30,294.50 L250.80,294.78 L251.30,295.07 L251.80,295.35 L252.30,295.63 L252.80,295.90 L253.30,296.17 L253.80,296.44 L254.30,296.71 L254.80,296.97 L255.30,297.22 L255.80,297.48 L256.30,297.73 L256.80,297.98 L257.30,298.22 L257.80,298.46 L258.30,298.70 L258.80,298.93 L259.30,299.17 L259.80,299.39 L260.30,299.62 L260.80,299.84 L261.30,300.06 L261.80,300.28 L262.30,300.49 L262.80,300.70 L263.30,300.91 L263.80,301.11 L264.30,301.32 L264.80,301.51 L265.30,301.71 L265.80,301.90 L266.30,302.09 L266.80,302.28 L267.30,302.47 L267.80,302.65 L268.30,302.83 L268.80,303.01 L269.30,303.18 L269.80,303.36 L270.30,303.53 L270.80,303.70 L271.30,303.86 L271.80,304.02 L272.30,304.18 L272.80,304.34 L273.30,304.50 L273.80,304.65 L274.30,304.81 L274.80,304.95 L275.30,305.10 L275.80,305.25 L276.30,305.39 L276.80,305.53 L277.30,305.67 L277.80,305.81 L278.30,305.94 L278.80,306.08 L279.30,306.21 L279.80,306.34 L280.30,306.46 L280.80,306.59 L281.30,306.71 L281.80,306.84 L282.30,306.96 L282.80,307.08 L283.30,307.19 L283.80,307.31 L284.30,307.42 L284.80,307.54 L285.30,307.65 L285.80,307.76 L286.30,307.86 L286.80,307.97 L287.30,308.07 L287.80,308.18 L288.30,308.28 L288.80,308.38 L289.30,308.48 L289.80,308.58 L290.30,308.68 L290.80,308.77 L291.30,308.87 L291.80,308.96 L292.30,309.05 L292.80,309.15 L293.30,309.24 L293.80,309.33 L294.30,309.41 L294.80,309.50 L295.30,309.59 L295.80,309.67 L296.30,309.75 L296.80,309.84 L297.30,309.92 L297.80,310.00 L298.30,310.08 L298.80,310.15 L299.30,310.23 L299.80,310.31 L300.30,310.38 L300.80,310.46 L301.30,310.53 L301.80,310.60 L302.30,310.67 L302.80,310.74 L303.30,310.81 L303.80,310.88 L304.30,310.95 L304.80,311.01 L305.30,311.08 L305.80,311.14 L306.30,311.21 L306.80,311.27 L307.30,311.33 L307.80,311.39 L308.30,311.45 L308.80,311.51 L309.30,311.57 L309.80,311.62 L310.30,311.68 L310.80,311.74 L311.30,311.79 L311.80,311.84 L312.30,311.90 L312.80,311.95 L313.30,312.00 L313.80,312.05 L314.30,312.10 L314.80,312.15 L315.30,312.20 L315.80,312.25 L316.30,312.30 L316.80,312.34 L317.30,312.39 L317.80,312.43 L318.30,312.48 L318.80,312.52 L319.30,312.56 L319.80,312.60 L320.30,312.65 L320.80,312.69 L321.30,312.73 L321.80,312.77 L322.30,312.81 L322.80,312.84 L323.30,312.88 L323.80,312.92 L324.30,312.96 L324.80,312.99 L325.30,313.03 L325.80,313.06 L326.30,313.10 L326.80,313.13 L327.30,313.16 L327.80,313.20 L328.30,313.23 L328.80,313.26 L329.30,313.29 L329.80,313.32 L330.30,313.35 L330.80,313.38 L331.30,313.41 L331.80,313.44 L332.30,313.47 L332.80,313.50 L333.30,313.53 L333.80,313.56 L334.30,313.58 L334.80,313.61 L335.30,313.64 L335.80,313.66 L336.30,313.69 L336.80,313.71 L337.30,313.74 L337.80,313.76 L338.30,313.79 L338.80,313.81 L339.30,313.83 L339.80,313.86 L340.30,313.88 L340.80,313.90 L341.30,313.92 L341.80,313.95 L342.30,313.97 L342.80,313.99 L343.30,314.01 L343.80,314.03 L344.30,314.05 L344.80,314.08 L345.30,314.10 L345.80,314.12 L346.30,314.14 L346.80,314.16 L347.30,314.18 L347.80,314.20 L348.30,314.22 L348.80,314.24 L349.30,314.26 L349.80,314.28 L350.30,314.30 L350.80,314.31 L351.30,314.33 L351.80,314.35 L352.30,314.37 L352.80,314.39 L353.30,314.41 L353.80,314.43 L354.30,314.45 L354.80,314.47 L355.30,314.49 L355.80,314.50 L356.30,314.52 L356.80,314.54 L357.30,314.56 L357.80,314.58 L358.30,314.60 L358.80,314.62 L359.30,314.64 L359.70,314.65" stroke="#0000ff" stroke-dasharray="0.01 4.57" stroke-dashoffset="2.78"/>
</g>
<g stroke="#000" stroke-width="0.75" fill="none" stroke-linecap="butt">
<path d="M44.63,54.61 V315.54" stroke-width="0.68"/>
<path d="M39.3,54.61 H44.63 M39.3,91.89 H44.63 M39.3,129.16 H44.63 M39.3,166.44 H44.63 M39.3,203.71 H44.63 M39.3,240.99 H44.63 M39.3,278.26 H44.63 M39.3,315.54 H44.63"/>
<path d="M56.60,326.43 H347.95"/>
<path d="M56.60,326.43 V331.84 M114.87,326.43 V331.84 M173.14,326.43 V331.84 M231.41,326.43 V331.84 M289.68,326.43 V331.84 M347.95,326.43 V331.84"/>
</g>
<g text-anchor="middle">
<text x="56.6" y="346.28">0</text><text x="114.9" y="346.28">100</text><text x="173.1" y="346.28">200</text><text x="231.4" y="346.28">300</text><text x="289.7" y="346.28">400</text><text x="348.0" y="346.28">500</text>
<text x="202.8" y="367.99">lifetime T</text>
<text transform="translate(10.1,184.74) rotate(-90)">posterior predictive pdf</text>
</g>
<g fill="none" stroke-linecap="round" stroke-width="1.4">
<line x1="239.5" y1="233.31" x2="256.0" y2="233.31" stroke="#000"/>
<line x1="239.5" y1="244.24" x2="256.0" y2="244.24" stroke="#ff0000" stroke-dasharray="3.18 5.98"/>
<line x1="239.5" y1="255.16" x2="256.0" y2="255.16" stroke="#0000ff" stroke-dasharray="0.01 4.57"/>
<line x1="239.5" y1="266.09" x2="256.0" y2="266.09" stroke="#ff00ff" stroke-dasharray="0.01 4.70 3.18 4.71"/>
</g>
<text x="264.8" y="236.49" textLength="38.8" lengthAdjust="spacing">Expert E1</text>
<text x="264.8" y="247.41" textLength="39.1" lengthAdjust="spacing">Expert E2</text>
<text x="264.8" y="258.34">Aggregation</text>
<text x="264.8" y="269.27">Noninf. Bayes</text>
</svg>
</body></html>
